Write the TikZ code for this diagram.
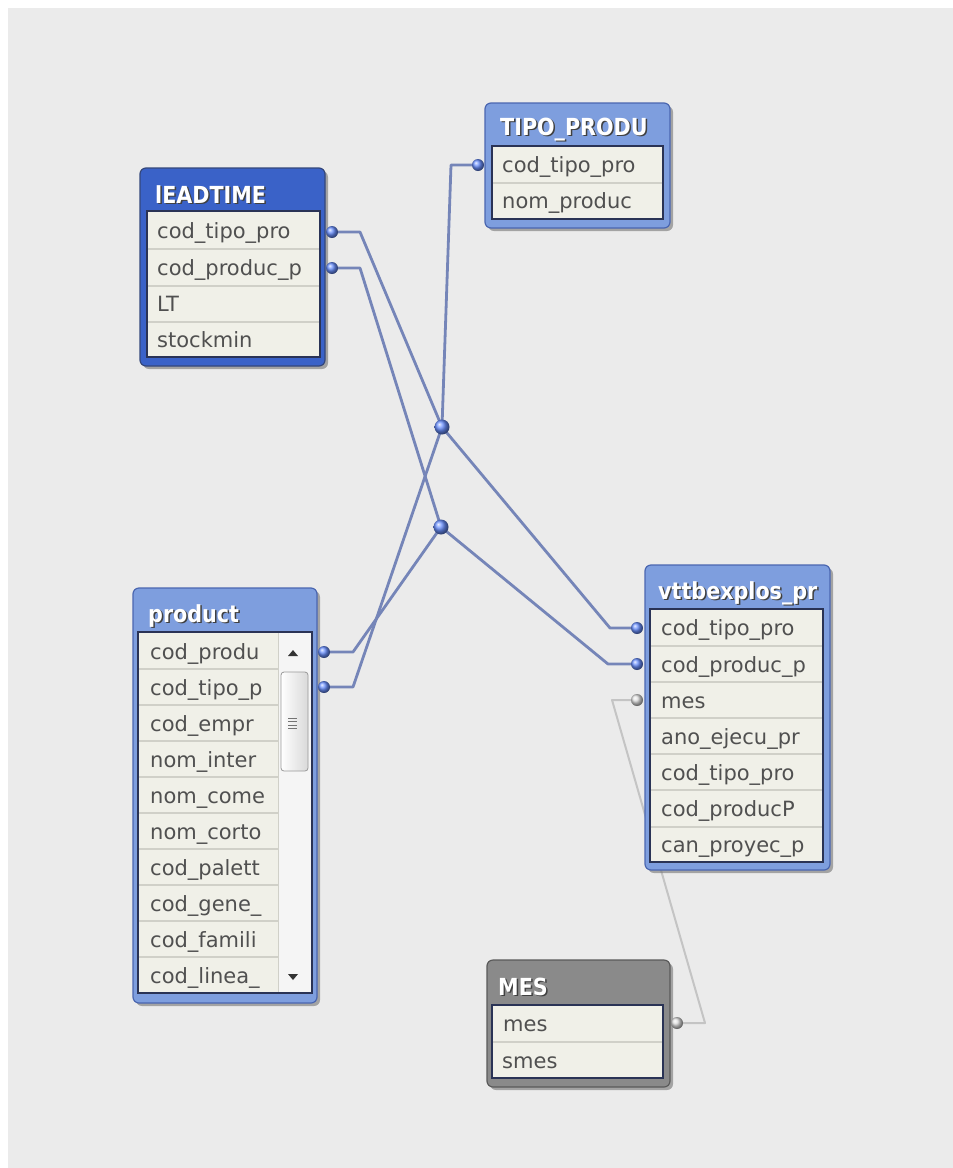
\documentclass[tikz,border=0pt]{standalone}
\usepackage{fontspec}
\setmainfont{DejaVu Sans}
\newfontfamily\ttlfont{DejaVu Sans}[FakeStretch=0.88]
\usetikzlibrary{calc,shapes.geometric}
\definecolor{bgc}{HTML}{EBEBEB}
\definecolor{hdrL}{HTML}{7E9EDE}
\definecolor{hdrD}{HTML}{3A62C8}
\definecolor{hdrG}{HTML}{8A8A8A}
\definecolor{rimc}{HTML}{4A66B0}
\definecolor{rimg}{HTML}{5A5A5A}
\definecolor{rowbg}{HTML}{F0F0E8}
\definecolor{rowsep}{HTML}{D0D0C8}
\definecolor{innerc}{HTML}{2A3355}
\definecolor{connc}{HTML}{7585B8}
\definecolor{gconnc}{HTML}{C4C4C4}
\definecolor{dotc}{HTML}{6A90FF}
\definecolor{txtc}{HTML}{505050}
\tikzset{
  tshadow/.style={fill=black!55, opacity=0.6, rounded corners=6pt},
  tframe/.style={line width=1.2pt, rounded corners=6pt},
  rowsbox/.style={fill=rowbg, draw=innerc, line width=2pt},
  sepline/.style={draw=rowsep, line width=1.5pt},
  rowtxt/.style={anchor=base west, inner sep=0pt, text=txtc, font=\fontsize{21}{24}\selectfont},
  ttltxt/.style={anchor=base west, inner sep=0pt, text=white, font=\ttlfont\bfseries\fontsize{23.5}{26}\selectfont},
  ttlshd/.style={anchor=base west, inner sep=0pt, text=black!75, font=\ttlfont\bfseries\fontsize{23.5}{26}\selectfont},
  conn/.style={draw=connc, line width=2.8pt, line join=round},
  gconn/.style={draw=gconnc, line width=2pt, line join=round},
  bdot/.style={circle, inner sep=0pt, minimum size=12pt, shading=ball, ball color=dotc},
  jdot/.style={circle, inner sep=0pt, minimum size=15pt, shading=ball, ball color=dotc},
  gdot/.style={circle, inner sep=0pt, minimum size=12pt, shading=ball, ball color=black!12},
}
\begin{document}
\begin{tikzpicture}[x=1pt,y=-1pt]
\useasboundingbox (0,0) rectangle (953,1168);
\fill[white] (0,0) rectangle (953,1168);
\fill[bgc] (8,8) rectangle (953,1168);

% ---------- connector end points ----------
\coordinate (lt-d1) at (332,232);
\coordinate (lt-d2) at (332,268);
\coordinate (tp-d1) at (478,165);
\coordinate (pr-d1) at (324,652);
\coordinate (pr-d2) at (324,687);
\coordinate (vt-d1) at (637,628);
\coordinate (vt-d2) at (637,664);
\coordinate (vt-d3) at (637,700);
\coordinate (ms-d1) at (677,1023);
\coordinate (j1) at (442,427);
\coordinate (j2) at (441,527);

% ---------- connectors (behind tables) ----------
\draw[gconn] (vt-d3) -- ++(-25,0) -- ($(ms-d1)+(28,0)$) -- (ms-d1);
\draw[conn] (lt-d1) -- ++(28,0) -- (j1);
\draw[conn] (tp-d1) -- ++(-27,0) -- (j1);
\draw[conn] (pr-d2) -- ++(29,0) -- (j1);
\draw[conn] (j1) -- ($(vt-d1)+(-27,0)$) -- (vt-d1);
\draw[conn] (lt-d2) -- ++(28,0) -- (j2);
\draw[conn] (pr-d1) -- ++(29,0) -- (j2);
\draw[conn] (j2) -- ($(vt-d2)+(-29,0)$) -- (vt-d2);

% ---------- LEADTIME ----------
\fill[tshadow] (143,171) rectangle (328,369);
\filldraw[tframe, fill=hdrD, draw=rimc!70!black] (140,168) rectangle (325,366);
\filldraw[rowsbox] (147,211) rectangle (320,357);
\foreach \y in {249,286,322} \draw[sepline] (148,\y) -- (319,\y);
\node[ttlshd] at (156.5,204.5) {lEADTIME};
\node[ttltxt] (lt-title) at (155,203) {lEADTIME};
\node[rowtxt] (lt-r1) at (157,238.5) {cod\_tipo\_pro};
\node[rowtxt] (lt-r2) at (157,275) {cod\_produc\_p};
\node[rowtxt] (lt-r3) at (157,311) {LT};
\node[rowtxt] (lt-r4) at (157,347) {stockmin};

% ---------- TIPO_PRODU ----------
\fill[tshadow] (488,106) rectangle (673,231);
\filldraw[tframe, fill=hdrL, draw=rimc] (485,103) rectangle (670,228);
\filldraw[rowsbox] (492,146) rectangle (663,219);
\draw[sepline] (493,183) -- (662,183);
\node[ttlshd] at (501.5,136.5) {TIPO\_PRODU};
\node[ttltxt] (tp-title) at (500,135) {TIPO\_PRODU};
\node[rowtxt] (tp-r1) at (502,172.5) {cod\_tipo\_pro};
\node[rowtxt] (tp-r2) at (502,208.5) {nom\_produc};

% ---------- product ----------
\fill[tshadow] (136,591) rectangle (320,1006);
\filldraw[tframe, fill=hdrL, draw=rimc] (133,588) rectangle (317,1003);
\filldraw[rowsbox] (138,632) rectangle (312,993);
\fill[white!96!black] (278,633) rectangle (311,992);
\foreach \y in {669,705,741,777,813,849,885,921,957} \draw[sepline] (139,\y) -- (278,\y);
\draw[draw=rowsep, line width=1pt] (278,633) -- (278,992);
\node[ttlshd] at (149.5,623.5) {product};
\node[ttltxt] (pr-title) at (148,622) {product};
\node[rowtxt] (pr-r1) at (150,659) {cod\_produ};
\node[rowtxt] (pr-r2) at (150,695) {cod\_tipo\_p};
\node[rowtxt] (pr-r3) at (150,731) {cod\_empr};
\node[rowtxt] (pr-r4) at (150,767) {nom\_inter};
\node[rowtxt] (pr-r5) at (150,803) {nom\_come};
\node[rowtxt] (pr-r6) at (150,839) {nom\_corto};
\node[rowtxt] (pr-r7) at (150,875) {cod\_palett};
\node[rowtxt] (pr-r8) at (150,911) {cod\_gene\_};
\node[rowtxt] (pr-r9) at (150,947) {cod\_famili};
\node[rowtxt] (pr-r10) at (150,983) {cod\_linea\_};
% scrollbar
\shade[left color=white, right color=black!15, draw=black!40, rounded corners=3pt, line width=0.8pt] (281,672) rectangle (308,771);
\foreach \y in {718,721.5,725,728.5} \draw[black!55, line width=1pt] (288,\y) -- (297,\y);
\fill[black!80] (288,656) -- (298,656) -- (293,650) -- cycle;
\fill[black!80] (288,974) -- (298,974) -- (293,980) -- cycle;

% ---------- vttbexplos_pr ----------
\fill[tshadow] (648,568) rectangle (833,873);
\filldraw[tframe, fill=hdrL, draw=rimc] (645,565) rectangle (830,870);
\filldraw[rowsbox] (650,609) rectangle (823,862);
\foreach \y in {646,682,718,754,790,827} \draw[sepline] (651,\y) -- (822,\y);
\node[ttlshd] at (659.5,600.5) {vttbexplos\_pr};
\node[ttltxt] (vt-title) at (658,599) {vttbexplos\_pr};
\node[rowtxt] (vt-r1) at (661,635.5) {cod\_tipo\_pro};
\node[rowtxt] (vt-r2) at (661,672) {cod\_produc\_p};
\node[rowtxt] (vt-r3) at (661,708) {mes};
\node[rowtxt] (vt-r4) at (661,744) {ano\_ejecu\_pr};
\node[rowtxt] (vt-r5) at (661,780) {cod\_tipo\_pro};
\node[rowtxt] (vt-r6) at (661,816) {cod\_producP};
\node[rowtxt] (vt-r7) at (661,852) {can\_proyec\_p};

% ---------- MES ----------
\fill[tshadow] (490,963) rectangle (673,1090);
\filldraw[tframe, fill=hdrG, draw=rimg] (487,960) rectangle (670,1087);
\filldraw[rowsbox] (492,1005) rectangle (663,1078);
\draw[sepline] (493,1042) -- (662,1042);
\node[ttlshd] at (499.5,996.5) {MES};
\node[ttltxt] (ms-title) at (498,995) {MES};
\node[rowtxt] (ms-r1) at (503,1031.5) {mes};
\node[rowtxt] (ms-r2) at (502,1068) {smes};

% dots on top
\node[bdot] (lt-b1) at (lt-d1) {};
\node[bdot] (lt-b2) at (lt-d2) {};
\node[bdot] (tp-b1) at (tp-d1) {};
\node[bdot] (pr-b1) at (pr-d1) {};
\node[bdot] (pr-b2) at (pr-d2) {};
\node[bdot] (vt-b1) at (vt-d1) {};
\node[bdot] (vt-b2) at (vt-d2) {};
\node[gdot] (vt-b3) at (vt-d3) {};
\node[gdot] (ms-b1) at (ms-d1) {};
\node[jdot] (j1-b) at (j1) {};
\node[jdot] (j2-b) at (j2) {};
\end{tikzpicture}
\end{document}
